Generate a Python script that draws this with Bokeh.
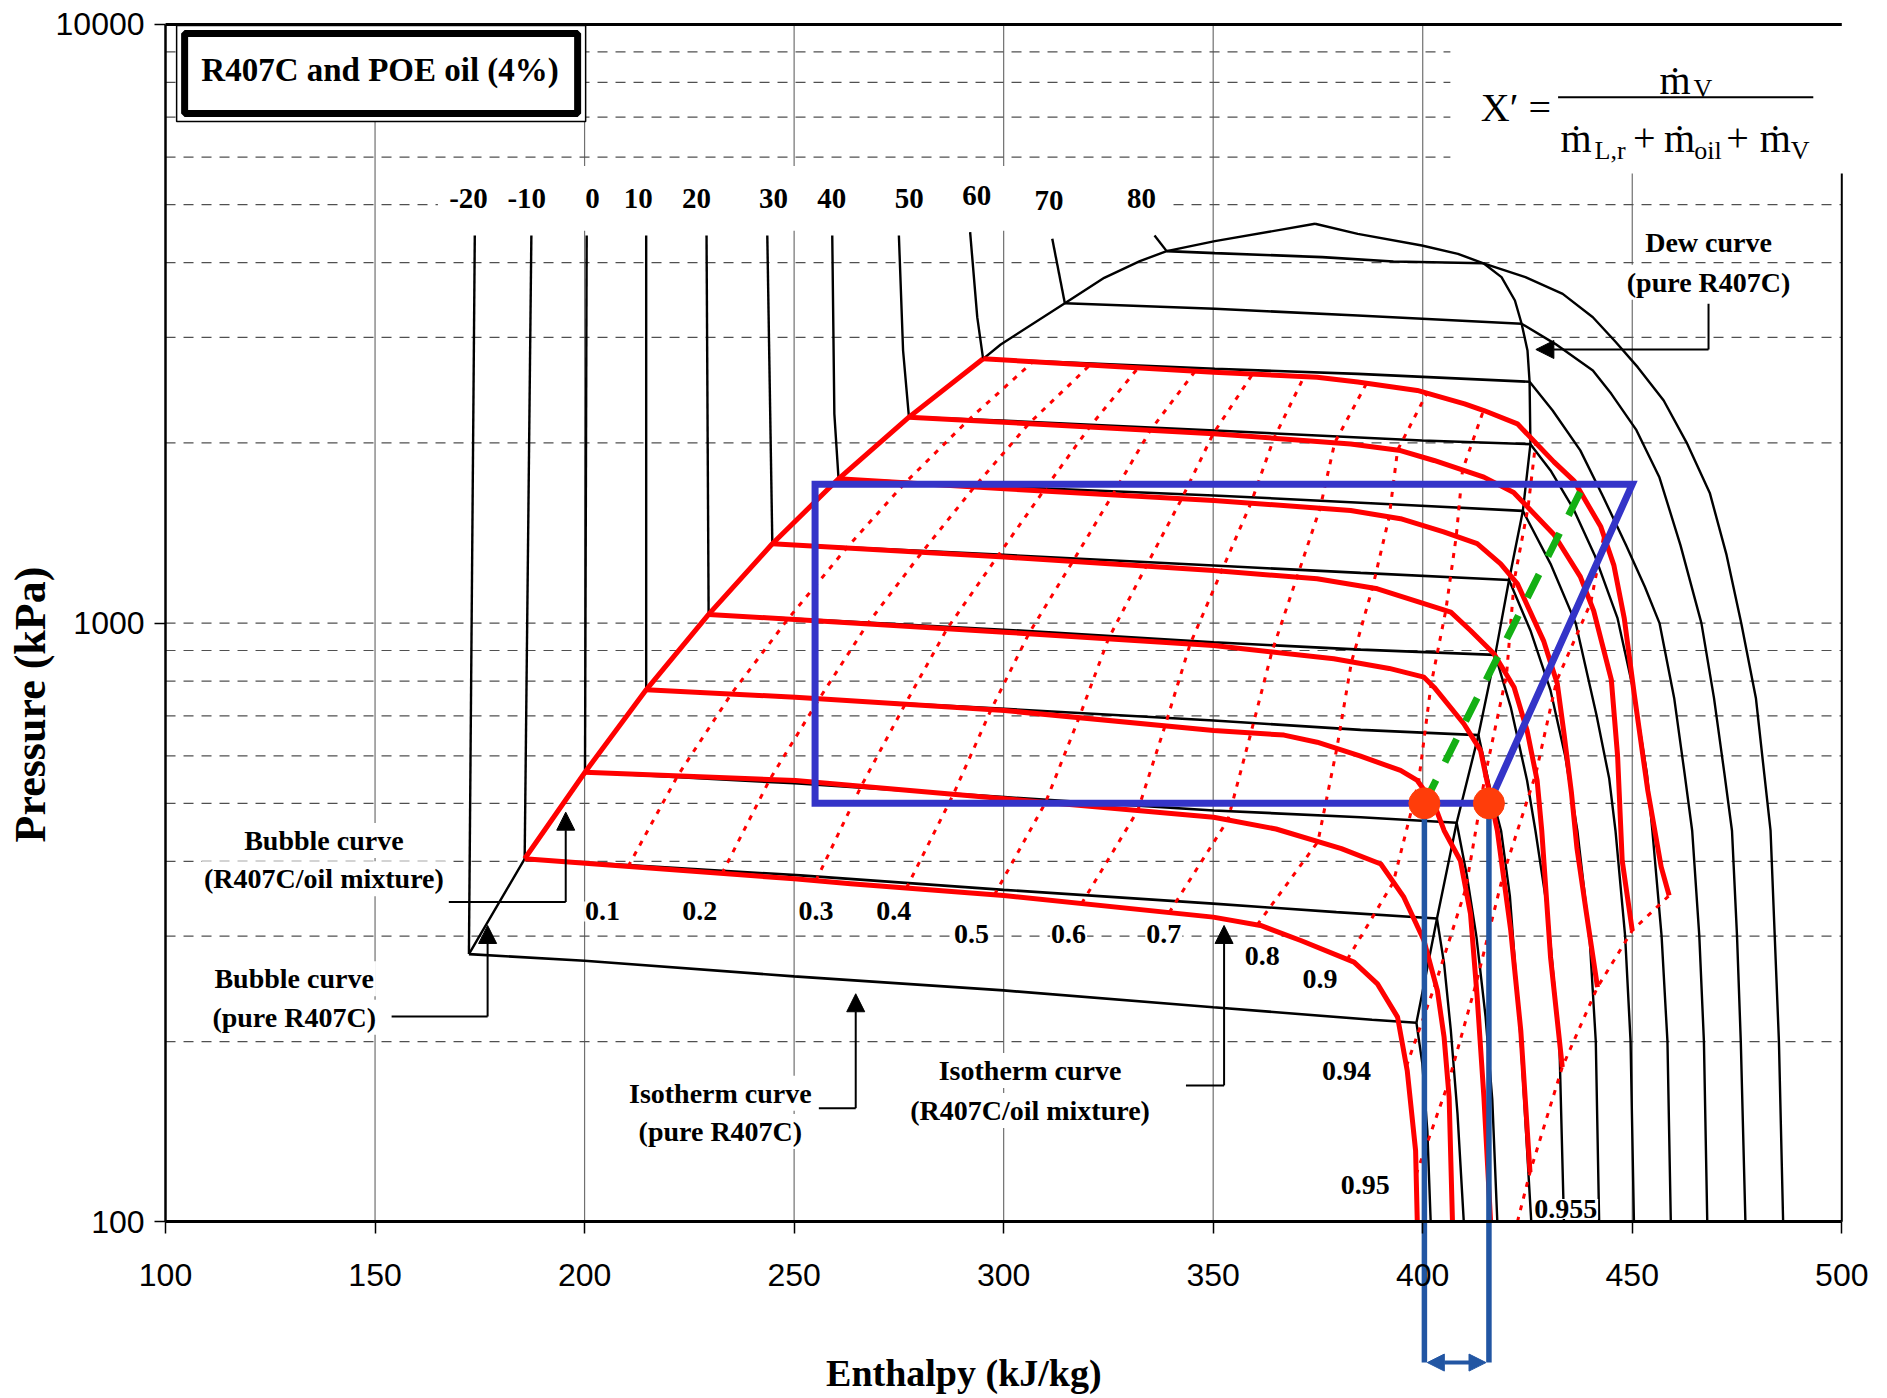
import math
import numpy as np
from bokeh.plotting import figure
from bokeh.models import Range1d, FixedTicker, PrintfTickFormatter, Label, Arrow, NormalHead
from bokeh.core.properties import value
from bokeh.embed import file_html
from bokeh.resources import INLINE

SERIF = "Liberation Serif"
SANS = "Liberation Sans"
RED = "#ff0000"
RECT_BLUE = "#3434c8"
LINE_BLUE = "#2256a3"
GREEN = "#14b014"
DOT_ORANGE = "#ff3d0a"

# ---------------- axes and grid ----------------
H_TICKS = [100, 150, 200, 250, 300, 350, 400, 450, 500]
P_TICKS = [100, 1000, 10000]
H_GRID = [150, 200, 250, 300, 350, 400, 450]
P_GRID = [200, 300, 400, 500, 600, 700, 800, 900, 1000,
          2000, 3000, 4000, 5000, 6000, 7000, 8000, 9000]

# ---------------- pure R407C isotherms (black) ----------------
TEMPS = [-20, -10, 0, 10, 20, 30, 40, 50, 60, 70, 80]
TEMP_LABEL_H = [172.3, 186.2, 201.9, 212.8, 226.7, 245.1, 259.0, 277.5, 293.6, 310.8, 332.9]
TEMP_LABEL_P = [5112, 5112, 5112, 5112, 5112, 5112, 5112, 5112, 5178, 5080, 5112]

# subcooled liquid branches (top -> bubble point)
LIQ_H = [[173.8, 172.4], [187.3, 185.7], [200.5, 200.1], [214.7, 214.7], [229.1, 229.6],
         [243.6, 244.8], [259.1, 259.6, 260.6], [275.0, 276.0, 277.4], [292.0, 293.7, 295.1],
         [311.6, 314.6], [336.0, 338.9]]
LIQ_P = [[4440, 280], [4440, 404], [4440, 563.6], [4440, 773.7], [4440, 1034],
         [4440, 1357], [4440, 2236, 1742], [4440, 2853, 2208], [4498, 3243, 2763],
         [4384, 3421], [4440, 4181]]

# two-phase branches (bubble -> dew)
TP_H = [[172.4, 200, 250, 300, 350, 387.9, 398.5],
        [185.7, 251.5, 300, 350, 379.4, 403.4],
        [200.1, 250, 300.2, 350.1, 385.2, 408.1],
        [214.7, 300.2, 350.1, 385.2, 413.3],
        [229.6, 300, 350.1, 385.2, 417.3],
        [244.8, 300, 350.1, 385.2, 420.6],
        [260.6, 300, 350.1, 385.2, 423.9],
        [277.4, 299.3, 350.4, 399.8, 425.7],
        [295.1, 350.4, 384.5, 425.5],
        [314.6, 350.4, 384.5, 423.6],
        [338.9, 350.4, 376.0, 393.0, 414.5]]
TP_P = [[280, 273, 257, 243.5, 228.2, 217.5, 215],
        [404, 379, 358.5, 340, 329, 321],
        [563.6, 540, 512, 486.4, 474, 464],
        [773.7, 719, 687.6, 663.2, 650],
        [1034, 975, 929, 903, 885],
        [1357, 1300, 1248, 1213, 1180],
        [1742, 1690, 1634, 1589, 1540],
        [2208, 2180, 2097, 2018, 1990],
        [2763, 2659, 2608, 2530],
        [3421, 3349, 3265, 3162],
        [4181, 4149, 4086, 4018, 3990]]

# superheated vapour branches (dew -> 100 kPa)
SH_H = [[398.5, 399.9, 401.1, 401.9],
        [403.4, 405.1, 406.7, 408.3, 409.8],
        [408.1, 410.5, 412.8, 415.0, 416.6, 417.8],
        [413.3, 416.2, 418.7, 420.8, 423.4, 425.9],
        [417.3, 421.0, 424.9, 426.9, 429.8, 432.6, 433.7],
        [420.6, 425.7, 430.5, 434.0, 436.9, 439.8, 441.3, 442.1],
        [423.9, 430.5, 436.5, 441.5, 444.5, 446.0, 448.3, 449.6, 450.4],
        [425.7, 430.5, 436.0, 441.0, 446.5, 450.5, 453.5, 454.8, 457.0, 458.4, 459.2],
        [425.5, 431.0, 437.6, 443.0, 448.5, 453.0, 456.5, 460.0, 462.5, 464.3, 466.0, 467.1, 467.9],
        [423.6, 431.6, 440.6, 445.0, 451.0, 456.5, 461.5, 466.5, 469.5, 472.0, 473.8, 475.0, 475.9, 477.0],
        [414.5, 424.5, 433.4, 440.6, 446.0, 451.3, 457.5, 463.0, 468.5, 472.5, 476.0, 479.5, 481.5,
         483.0, 485.0, 486.0]]
SH_P = [[215, 184, 142, 100],
        [321, 270, 209, 151.5, 100],
        [464, 380, 300, 220, 160, 100],
        [650, 525, 450, 350, 200, 100],
        [885, 724, 546, 450, 330, 200, 100],
        [1180, 972, 772, 600, 450, 300, 200, 100],
        [1540, 1256, 1000, 700, 550, 450, 300, 200, 100],
        [1990, 1799, 1550, 1300, 1018, 759, 560, 450, 300, 200, 100],
        [2530, 2265, 1943, 1629, 1350, 1150, 1000, 750, 560, 450, 300, 200, 100],
        [3162, 2927, 2642, 2415, 2100, 1750, 1350, 1000, 750, 560, 450, 300, 200, 100],
        [3990, 3782, 3547, 3243, 2950, 2676, 2354, 2000, 1650, 1300, 1000, 750, 560,
         450, 200, 100]]

# saturation dome of pure R407C
BUB_H = [172.4, 185.7, 200.1, 214.7, 229.6, 244.8, 260.6, 277.4, 295.1, 299.3, 314.6,
         324.0, 332.5, 338.9, 350.4, 374.3]
BUB_P = [280, 404, 563.6, 773.7, 1034, 1357, 1742, 2208, 2763, 2920, 3421,
         3773, 4023, 4181, 4344, 4645]
DEW_H = [374.3, 384.5, 399.8, 408.4, 414.5, 418.8, 422.0, 423.6, 425.0, 425.5, 425.7,
         423.9, 420.6, 417.3, 413.3, 408.1, 403.4, 398.5]
DEW_P = [4645, 4469, 4273, 4138, 3990, 3783, 3458, 3162, 2853, 2530, 1990,
         1540, 1180, 885, 650, 464, 321, 215]

# ---------------- R407C / POE oil mixture isotherms (red) ----------------
MIX_T = [-10, 0, 10, 20, 30, 40, 50, 60]
MIX_H = [[185.7, 250.0, 263.5, 300.0, 350.0, 361.3, 370.9, 383.6, 389.2, 394.0, 396.3, 398.3, 398.7],
         [200.1, 250.3, 300.2, 350.1, 365.0, 380.6, 390.0, 395.5, 400.3, 403.5, 405.1, 406.3, 407.1],
         [214.7, 250.3, 300.2, 350.1, 366.9, 374.8, 385.0, 394.7, 398.7, 402.7, 405.1, 409.0,
          411.4, 413.0, 414.6, 416.2],
         [229.6, 300.2, 350.1, 378.8, 392.0, 400.3, 402.7, 409.8, 413.8, 415.8, 417.8, 421.0,
          423.4, 425.6],
         [244.8, 300.2, 350.1, 374.8, 389.2, 406.7, 411.4, 417.0, 421.8, 424.9, 427.3, 428.4,
          430.5, 433.3],
         [260.6, 300.2, 350.1, 382.8, 394.7, 405.0, 413.0, 418.6, 422.6, 428.9, 432.1, 433.7,
          435.5, 436.8, 439.0, 441.7],
         [277.4, 350.1, 382.8, 394.7, 402.7, 414.6, 421.7, 431.3, 437.6, 440.8, 445.0, 446.5,
          447.6, 450.0],
         [295.1, 350.1, 374.8, 384.5, 398.7, 410.0, 414.6, 422.6, 431.3, 436.1, 442.5, 445.6,
          448.1, 450.5, 453.7, 456.9, 458.8]]
MIX_P = [[404, 374, 367, 350.8, 322.8, 312.6, 295, 271.5, 249.7, 219.7, 178.9, 131.5, 100],
         [563.6, 546, 508.7, 474, 453, 420, 396, 348.5, 295, 243.4, 203.4, 161.5, 100],
         [773.7, 752, 714.5, 661.5, 650, 632.5, 600, 567.4, 546, 499, 450.5, 401,
          327, 237, 161.5, 100],
         [1034, 965.6, 917.5, 871.6, 840, 812.2, 781.6, 679, 612.9, 525.3, 450.5, 306.6,
          208.7, 121],
         [1357, 1289, 1224, 1186, 1141, 1043, 972, 888.6, 781.6, 661.5, 546, 450.5,
          276.7, 181.3],
         [1742, 1676, 1603, 1542, 1494, 1420, 1357, 1256, 1163, 932, 793, 655,
          520, 421, 330, 246.6],
         [2208, 2071, 1992, 1942, 1869, 1753, 1653, 1406, 1196, 1048, 805, 600,
          401, 306.6],
         [2763, 2625, 2575, 2527, 2447, 2324, 2265, 2152, 1859, 1728, 1448, 1250,
          1018, 759, 525.5, 391.5, 350.8]]

# lines of constant X' (one value per mixture isotherm, -10 .. 60 degC)
Q_LOW = ["0.1", "0.2", "0.3", "0.4", "0.5", "0.6", "0.7", "0.8", "0.9"]
Q_LOW_H = [[210.4, 222.2, 235.0, 248.5, 262.5, 276.5, 291.5, 307.0],
           [232.8, 244.2, 256.0, 267.5, 280.5, 293.0, 306.0, 320.6],
           [255.2, 266.0, 276.5, 286.5, 298.5, 309.5, 320.5, 332.1],
           [276.8, 288.0, 297.0, 306.0, 316.5, 326.0, 335.0, 345.7],
           [297.8, 310.0, 318.0, 325.0, 334.0, 342.5, 350.0, 359.4],
           [318.6, 332.0, 338.5, 344.5, 352.0, 359.0, 364.5, 371.7],
           [339.5, 353.5, 359.0, 364.0, 370.0, 375.5, 379.0, 386.6],
           [360.5, 375.0, 379.5, 383.0, 388.0, 392.0, 394.0, 401.0],
           [382.0, 393.0, 399.0, 402.0, 405.5, 408.0, 409.5, 414.5]]
Q_HIGH = ["0.94", "0.95"]
Q_HIGH_P = [[182, 250, 360, 560, 820, 1180, 1560, 2000],
            [120, 170, 250, 380, 560, 800, 1080, 1400]]
Q955_AXIS_H = 422.6  # where the X' = 0.955 line meets 100 kPa

Q_LABELS = ["0.1", "0.2", "0.3", "0.4", "0.5", "0.6", "0.7", "0.8", "0.9", "0.94", "0.95", "0.955"]
Q_LABEL_H = [204.3, 227.5, 255.2, 273.8, 292.3, 315.5, 338.2, 361.7, 375.5, 381.8, 386.3, 434.1]
Q_LABEL_P = [330, 330, 330, 330, 302.8, 302.8, 302.8, 278.4, 254.6, 178.9, 115, 105.1]

# ---------------- cycle overlay ----------------
CYCLE_H_LEFT = 255.0
CYCLE_H_TOP_RIGHT = 450.0
CYCLE_P_HIGH = 1705
CYCLE_P_LOW = 500
STATE_H = [400.4, 415.8]          # evaporator states on the low-pressure line
GREEN_H = [400.4, 438.5]
GREEN_P = [500, 1705]
ARROW_P = 58.2                     # level of the enthalpy-difference arrow

# ---------------- figure ----------------
# The frame covers (almost) the whole canvas; both axes are pinned at h=100 / P=100
# so the marks below the enthalpy axis and all tick labels stay inside the frame.
p = figure(width=1887, height=1398, x_range=Range1d(61.1, 510.43), y_range=Range1d(51.08, 10878),
           y_axis_type="log", output_backend="svg", toolbar_location=None,
           min_border_left=2, min_border_right=2, min_border_top=2, min_border_bottom=2)
p.outline_line_color = None
p.grid.visible = False
p.background_fill_color = "white"
p.border_fill_color = "white"

xa = p.xaxis[0]
xa.fixed_location = 100
xa.bounds = (100, 500)
xa.ticker = FixedTicker(ticks=H_TICKS)
xa.axis_line_width = 3
xa.axis_line_color = "black"
xa.major_tick_in = 0
xa.major_tick_out = 12
xa.major_tick_line_width = 1.5
xa.minor_tick_line_color = None
xa.major_label_standoff = 30
xa.major_label_text_font = SANS
xa.major_label_text_font_size = "32px"
xa.major_label_text_color = "black"

ya = p.yaxis[0]
ya.fixed_location = 100
ya.bounds = (100, 10000)
ya.ticker = FixedTicker(ticks=P_TICKS)
ya.formatter = PrintfTickFormatter(format="%d")
ya.axis_line_width = 2.5
ya.axis_line_color = "black"
ya.major_tick_in = 0
ya.major_tick_out = 11
ya.major_tick_line_width = 1.5
ya.minor_tick_line_color = None
ya.major_label_standoff = 10
ya.major_label_text_font = SANS
ya.major_label_text_font_size = "32px"
ya.major_label_text_color = "black"

# grid
p.segment(x0=H_GRID, y0=[100] * len(H_GRID), x1=H_GRID, y1=[10000] * len(H_GRID),
          line_color="#707070", line_width=1.2)
p.segment(x0=[100] * len(P_GRID), y0=P_GRID, x1=[500] * len(P_GRID), y1=P_GRID,
          line_color="#505050", line_width=1.2, line_dash="10 8")

# pure refrigerant isotherms and dome
p.multi_line(LIQ_H, LIQ_P, line_color="black", line_width=2.4)
p.multi_line(TP_H, TP_P, line_color="black", line_width=2.6)
p.multi_line(SH_H, SH_P, line_color="black", line_width=2.4)
p.line(BUB_H, BUB_P, line_color="black", line_width=2.4)
p.line(DEW_H, DEW_P, line_color="black", line_width=2.4)


def p_on(i, h):
    return 10 ** np.interp(h, MIX_H[i], np.log10(MIX_P[i]))


def h_on(i, pr):
    lp = np.log10(MIX_P[i])[::-1]
    hh = np.array(MIX_H[i])[::-1]
    return float(np.interp(math.log10(pr), lp, hh))


q_xs, q_ys = [], []
for row in Q_LOW_H:
    q_xs.append(list(row))
    q_ys.append([float(p_on(i, h)) for i, h in enumerate(row)])
for row in Q_HIGH_P:
    q_xs.append([h_on(i, pr) for i, pr in enumerate(row)])
    q_ys.append(list(row))
ends = [i for i, t in enumerate(MIX_T) if t >= 20]
q_xs.append([Q955_AXIS_H] + [MIX_H[i][-1] for i in ends])
q_ys.append([100] + [MIX_P[i][-1] for i in ends])
p.multi_line(q_xs, q_ys, line_color=RED, line_width=3, line_dash="5 7")

# mixture isotherms and mixture bubble curve
p.multi_line(MIX_H, MIX_P, line_color=RED, line_width=5, line_join="round")
p.line([h[0] for h in MIX_H], [pp[0] for pp in MIX_P], line_color=RED, line_width=5,
       line_join="round")

# cycle overlay
p.line([STATE_H[1], CYCLE_H_LEFT, CYCLE_H_LEFT, CYCLE_H_TOP_RIGHT, STATE_H[1]],
       [CYCLE_P_LOW, CYCLE_P_LOW, CYCLE_P_HIGH, CYCLE_P_HIGH, CYCLE_P_LOW],
       line_color=RECT_BLUE, line_width=7, line_join="miter")
p.segment(x0=STATE_H, y0=[CYCLE_P_LOW] * 2, x1=STATE_H, y1=[ARROW_P] * 2,
          line_color=LINE_BLUE, line_width=5.5)
p.add_layout(Arrow(x_start=STATE_H[0] + 0.7, y_start=ARROW_P, x_end=STATE_H[1] - 0.7, y_end=ARROW_P,
                   line_color=LINE_BLUE, line_width=4,
                   start=NormalHead(size=17, fill_color=LINE_BLUE, line_color=LINE_BLUE),
                   end=NormalHead(size=17, fill_color=LINE_BLUE, line_color=LINE_BLUE)))
p.line(GREEN_H, GREEN_P, line_color=GREEN, line_width=7, line_dash="26 20")
p.scatter(STATE_H, [CYCLE_P_LOW] * 2, size=31, fill_color=DOT_ORANGE, line_color=DOT_ORANGE)

# white panels: title box, formula area, temperature label band
p.quad(left=[406.6], right=[501], bottom=[5636], top=[10080], fill_color="white", line_color=None)
p.quad(left=[165], right=[340], bottom=[4520], top=[5800], fill_color="white", line_color=None)
p.quad(left=[102.65], right=[200.25], bottom=[6884], top=[9958], fill_color="white",
       line_color="black", line_width=1.5)
p.quad(left=[104.56], right=[198.34], bottom=[7099], top=[9656], fill_color=None,
       line_color="black", line_width=7)
p.text(x=[151.2], y=[8375], text=["R407C and POE oil (4%)"], text_font=value(SERIF),
       text_font_style="bold", text_font_size=value("33px"), text_align="center",
       text_baseline="middle", text_color="black")

# plot box (top and right edges)
p.line([100, 500], [10000, 10000], line_color="black", line_width=3)
p.line([500, 500], [100, 5636], line_color="black", line_width=2)

# X' definition
p.text(x=[413.85], y=[7264], text=["X\u2032 ="], text_font=value(SERIF),
       text_font_size=value("40px"), text_align="left", text_baseline="alphabetic")
p.text(x=[456.5, 432.9, 450.2, 457.6, 472.4, 480.4],
       y=[8060, 6448, 6448, 6448, 6448, 6448],
       text=["\u1e41", "\u1e41", "+", "\u1e41", "+", "\u1e41"], text_font=value(SERIF),
       text_font_size=value("40px"), text_align="left", text_baseline="alphabetic")
p.text(x=[464.6, 441.0, 464.8, 487.8], y=[7815, 6158, 6158, 6158],
       text=["V", "L,r", "oil", "V"], text_font=value(SERIF),
       text_font_size=value("26px"), text_align="left", text_baseline="alphabetic")
p.line([432.3, 493.2], [7557, 7557], line_color="black", line_width=2)

# temperature labels
p.text(x=TEMP_LABEL_H, y=TEMP_LABEL_P, text=[str(t) for t in TEMPS], text_font=value(SERIF),
       text_font_style="bold", text_font_size=value("29px"), text_align="center",
       text_baseline="middle")

# X' labels
p.text(x=Q_LABEL_H, y=Q_LABEL_P, text=Q_LABELS, text_font=value(SERIF),
       text_font_style="bold", text_font_size=value("28px"), text_align="center",
       text_baseline="middle", background_fill_color="white", padding=1)

# curve annotations
NOTE_H = [468.2, 468.2, 137.8, 137.8, 130.7, 130.7, 232.4, 232.4, 306.3, 306.3]
NOTE_P = [4327, 3710, 433.5, 374, 254.6, 219.7, 164, 141.5, 178.9, 153.5]
NOTE_TEXT = ["Dew curve", "(pure R407C)", "Bubble curve", "(R407C/oil mixture)",
             "Bubble curve", "(pure R407C)", "Isotherm curve", "(pure R407C)",
             "Isotherm curve", "(R407C/oil mixture)"]
p.text(x=NOTE_H, y=NOTE_P, text=NOTE_TEXT, text_font=value(SERIF), text_font_style="bold",
       text_font_size=value("28px"), text_align="center", text_baseline="middle",
       background_fill_color="white", padding=2)

# leader lines: elbow segment + arrow
LEADER_H = [[468.2, 468.2, 427.0], [167.6, 195.5, 195.5], [153.95, 176.86, 176.86],
            [255.9, 264.7, 264.7], [343.5, 352.6, 352.6]]
LEADER_P = [[3415, 2864, 2864], [342, 342, 483.3], [220.2, 220.2, 312.6],
            [154.8, 154.8, 240.4], [169, 169, 312.6]]
for lh, lp in zip(LEADER_H, LEADER_P):
    p.line(lh[:2], lp[:2], line_color="black", line_width=2)
    p.add_layout(Arrow(x_start=lh[1], y_start=lp[1], x_end=lh[2], y_end=lp[2],
                       line_color="black", line_width=2,
                       end=NormalHead(size=18, fill_color="black", line_color="black")))

# axis titles
p.add_layout(Label(x=290.5, y=56.0, text="Enthalpy (kJ/kg)", text_font=SERIF,
                   text_font_style="bold", text_font_size="38px", text_align="center",
                   text_baseline="middle", text_color="black"))
p.add_layout(Label(x=67.8, y=731, text="Pressure (kPa)", angle=math.pi / 2, text_font=SERIF,
                   text_font_style="bold", text_font_size="44px", text_align="center",
                   text_baseline="middle", text_color="black"))

open("out.html", "w").write(file_html(p, INLINE))
